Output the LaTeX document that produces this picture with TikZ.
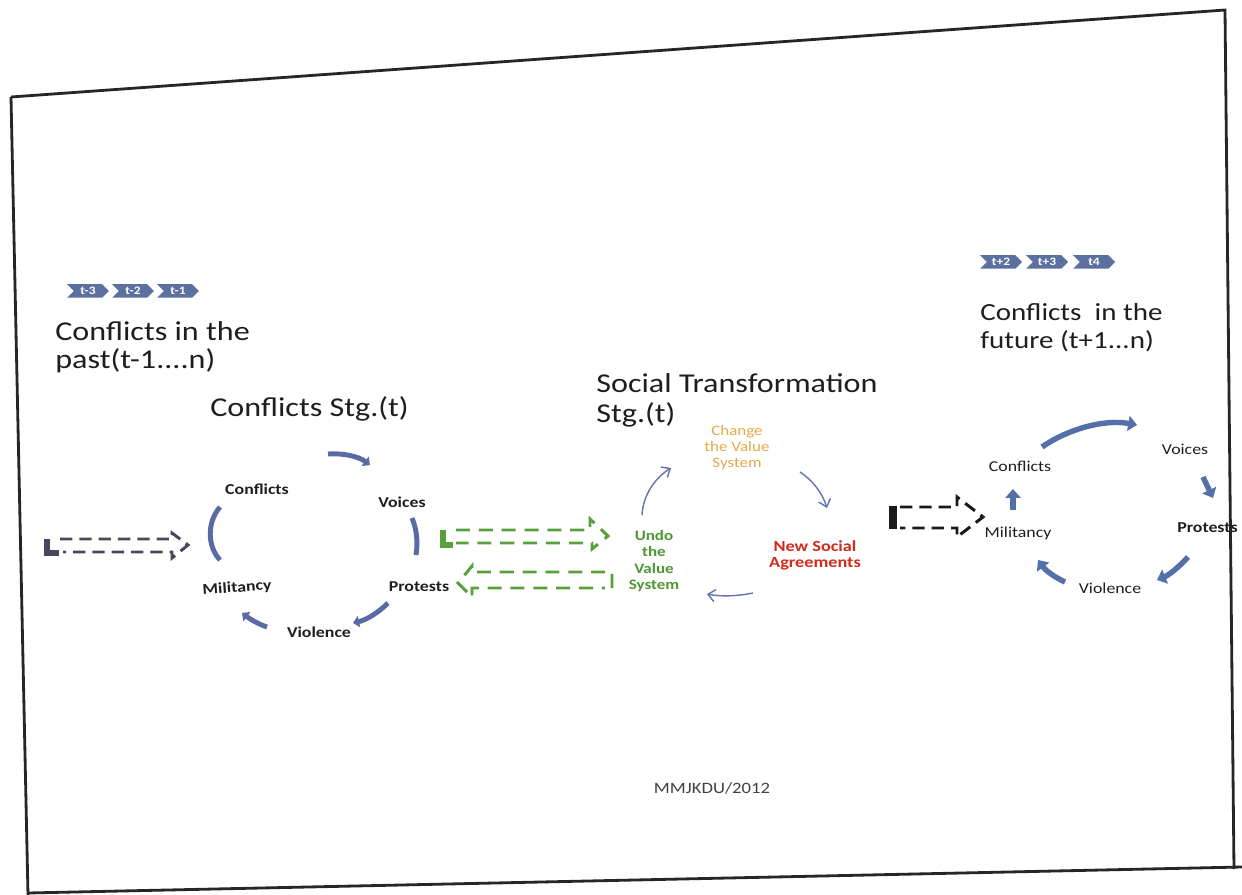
\documentclass[tikz,border=0pt]{standalone}
\usepackage{fontspec}
\setmainfont{Carlito}[FakeStretch=1.18]
\usetikzlibrary{shapes.symbols,arrows.meta}
\definecolor{ink}{RGB}{30,30,30}
\definecolor{cyc}{RGB}{90,106,164}
\definecolor{cycR}{RGB}{84,112,168}
\definecolor{grn}{RGB}{88,160,60}
\definecolor{grnT}{RGB}{78,152,52}
\definecolor{redT}{RGB}{208,42,28}
\definecolor{orT}{RGB}{230,168,72}
\definecolor{slate}{RGB}{72,72,90}
\definecolor{tagc}{RGB}{92,112,160}
\definecolor{thinb}{RGB}{98,114,178}
\begin{document}
\begin{tikzpicture}[x={(0.02cm,0)},y={(0,-0.02cm)},
  head/.style={inner sep=0pt,anchor=west,align=left,text=ink},
  lab/.style={inner sep=0pt,text=ink,font=\bfseries\fontsize{8.6}{10}\selectfont},
  labr/.style={inner sep=0pt,text=ink,font=\fontsize{8.6}{10}\selectfont},
  tag/.style={shape=signal,signal to=east,signal from=west,fill=tagc,text=white,
    font=\bfseries\fontsize{6.5}{7}\selectfont,inner sep=0pt,minimum width=0.84cm,minimum height=0.27cm},
  ring/.style={draw=cyc,line width=2.8pt},
  ringtip/.style={ring,-{Triangle[length=3.5pt,width=6.5pt]}},
  ringR/.style={draw=cycR,line width=3.1pt,-{Triangle[length=5pt,width=8.5pt]}},
  thinarr/.style={draw=thinb,line width=0.8pt,-{Straight Barb[length=4pt,width=7pt]}},
  hollow/.style={line width=1.7pt,dash pattern=on 7pt off 4pt},
  hollowg/.style={draw=grn,line width=1.7pt,dash pattern=on 8pt off 5pt},
  ]
\useasboundingbox (0,0) rectangle (1242,895);

% page frame
\draw[line width=1.6pt,black!85] (11,97) -- (1225,10) -- (1234,869);
\draw[line width=1.6pt,black!85] (11,97) -- (28,895);
\draw[line width=1.6pt,black!85] (28,893) -- (1242,867);

% headings
\node[head,font=\fontsize{15.5}{15.9}\selectfont] (past) at (55,347) {Conflicts in the\\past(t-1....n)};
\node[head,font=\fontsize{15.5}{16}\selectfont] (cstg) at (210,409) {Conflicts Stg.(t)};
\node[head,font=\fontsize{15.5}{17}\selectfont] (social) at (596,400) {Social Transformation\\Stg.(t)};
\node[head,font=\fontsize{14}{15.9}\selectfont] (future) at (980,328) {Conflicts\ \ in the\\future (t+1...n)};

% time tags
\node[tag] (tm3) at (88,291) {t-3};
\node[tag] (tm2) at (133,291) {t-2};
\node[tag] (tm1) at (178,291) {t-1};
\node[tag] (tp2) at (1001,262) {t+2};
\node[tag] (tp3) at (1047,262) {t+3};
\node[tag] (tp4) at (1094,262) {t4};

% conflict cycle, stage t
\node[lab] (c1) at (257,489) {Conflicts};
\node[lab] (v1) at (402,502) {Voices};
\node[lab] (p1) at (419,587) {Protests};
\node[lab] (vi1) at (319,632) {Violence};
\node[lab,rotate=4] (m1) at (237,588) {Militancy};

\draw[ringtip] ([shift={(71,-35)}]c1.center) .. controls (342,453) and (358,456) .. ([shift={(-32,-37)}]v1.center);
\draw[ring] ([shift={(-37,18)}]c1.center) .. controls (207,522) and (207,546) .. ([shift={(-17,-28)}]m1.center);
\draw[ring] ([shift={(10,16)}]v1.center) .. controls (417,530) and (418,543) .. ([shift={(-3,-32)}]p1.center);
\draw[ringtip] ([shift={(-31,16)}]p1.center) .. controls (378,613) and (366,620) .. ([shift={(34,-9)}]vi1.center);
\draw[ringtip] ([shift={(-52,-5)}]vi1.center) .. controls (258,624) and (250,619) .. ([shift={(5,25)}]m1.center);

% conflicts of the past feeding the cycle
\coordinate (pastin) at (47,546);
\draw[hollow,draw=slate] (60,539) -- (172,539) -- (172,533) -- (188,545) -- (172,558) -- (172,552) -- (63,552);
\draw[draw=slate,line width=3pt] ([shift={(0,-7)}]pastin) -- ([shift={(0,7)}]pastin) -- ([shift={(12,7)}]pastin);

% social transformation cycle
\node[inner sep=0pt,align=center,text=orT,font=\fontsize{8.2}{9.1}\selectfont] (change) at (737,448) {Change\\the Value\\System};
\node[inner sep=0pt,align=center,text=grnT,font=\bfseries\fontsize{8.2}{9.3}\selectfont] (undo) at (654,561) {Undo\\the\\Value\\System};
\node[inner sep=0pt,align=center,text=redT,font=\bfseries\fontsize{8.8}{9.1}\selectfont] (newsoc) at (815,555) {New Social\\Agreements};

\draw[thinarr] ([shift={(-12,-46)}]undo.center) .. controls (643,495) and (655,478) .. ([shift={(-66,20)}]change.center);
\draw[thinarr] ([shift={(63,24)}]change.center) .. controls (812,480) and (822,492) .. ([shift={(12,-47)}]newsoc.center);
\draw[thinarr] ([shift={(-62,38)}]newsoc.center) .. controls (738,596) and (722,597) .. ([shift={(53,33)}]undo.center);

% exchange between protests and undoing the value system
\draw[hollowg] (456,530) -- (590,530) -- (590,519) -- (608,536) -- (592,549) -- (592,543) -- (456,543);
\draw[draw=grn,line width=3pt] (443,530) -- (443,545) -- (453,545);
\draw[hollowg] (612,588) -- (612,572) -- (472,572) -- (472,566) -- (458,583) -- (472,597) -- (472,588) -- (605,588);

% conflict cycle of the future
\node[labr] (c2) at (1020,466) {Conflicts};
\node[labr] (v2) at (1185,449) {Voices};
\node[lab,anchor=west] (p2) at (1177,528) {Protests};
\node[labr] (vi2) at (1110,588) {Violence};
\node[labr] (m2) at (1018,533) {Militancy};

\draw[ringR] ([shift={(22,-19)}]c2.center) .. controls (1068,429) and (1104,419) .. ([shift={(-48,-24)}]v2.center);
\draw[ringR] ([shift={(18,28)}]v2.center) -- ([shift={(36,-30)}]p2.west);
\draw[ringR] ([shift={(11,29)}]p2.west) .. controls (1179,567) and (1169,575) .. ([shift={(47,-8)}]vi2.center);
\draw[ringR] ([shift={(-45,-6)}]vi2.center) .. controls (1056,578) and (1046,571) .. ([shift={(20,27)}]m2.center);
\draw[ringR] ([shift={(-5,-23)}]m2.center) -- ([shift={(-7,23)}]c2.center);

% stage t handing on to the future
\coordinate (futin) at (893,517);
\draw[hollow,draw=black!90] (900,507) -- (957,507) -- (957,497) -- (983,517) -- (957,537) -- (957,528) -- (900,528);
\draw[draw=black!90,line width=4pt] ([shift={(0,-11)}]futin) -- ([shift={(0,12)}]futin);

% signature
\node[inner sep=0pt,text=black!75,font=\fontsize{9}{10}\selectfont] (sig) at (712,788) {MMJKDU/2012};
\end{tikzpicture}
\end{document}
